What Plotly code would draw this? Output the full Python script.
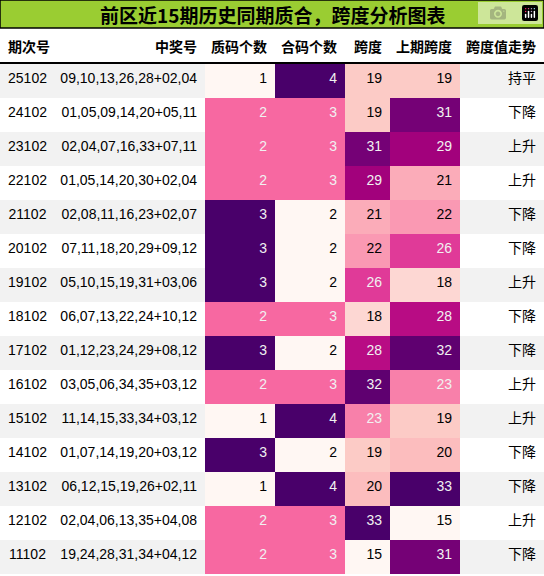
import plotly.graph_objects as go
from plotly.colors import sample_colorscale, unlabel_rgb

periods = ["25102","24102","23102","22102","21102","20102","19102","18102","17102","16102","15102","14102","13102","12102","11102"]
numbers = ["09,10,13,26,28+02,04","01,05,09,14,20+05,11","02,04,07,16,33+07,11","01,05,14,20,30+02,04",
           "02,08,11,16,23+02,07","07,11,18,20,29+09,12","05,10,15,19,31+03,06","06,07,13,22,24+10,12",
           "01,12,23,24,29+08,12","03,05,06,34,35+03,12","11,14,15,33,34+03,12","01,07,14,19,20+03,12",
           "06,12,15,19,26+02,11","02,04,06,13,35+04,08","19,24,28,31,34+04,12"]
prime = [1,2,2,2,3,3,3,2,3,2,1,3,1,2,2]
composite = [4,3,3,3,2,2,2,3,2,3,4,2,4,3,3]
span = [19,19,31,29,21,22,26,18,28,32,23,19,20,33,15]
prev_span = [19,31,29,21,22,26,18,28,32,23,19,20,33,15,31]
trend = ["持平","下降","上升","上升","下降","下降","上升","下降","下降","上升","上升","下降","下降","上升","下降"]
headers = ["期次号","中奖号","质码个数","合码个数","跨度","上期跨度","跨度值走势"]

def grad(vals):
    lo, hi = min(vals), max(vals)
    cols = sample_colorscale("RdPu", [(v-lo)/(hi-lo) for v in vals])
    txt = []
    for c in cols:
        r, g, b = [x/255 for x in unlabel_rgb(c)]
        f = lambda x: x/12.92 if x <= 0.04045 else ((x+0.055)/1.055)**2.4
        L = 0.2126*f(r)+0.7152*f(g)+0.0722*f(b)
        txt.append("#f1f1f1" if L < 0.408 else "#000000")
    return cols, txt

base = ["#f2f2f2" if i % 2 == 0 else "#ffffff" for i in range(len(periods))]
black = ["#000000"]*len(periods)
fills, fonts = [base, base], [black, black]
for v in [prime, composite, span, prev_span]:
    c, t = grad(v)
    fills.append(c); fonts.append(t)
fills.append(base); fonts.append(black)

H = 576
fig = go.Figure(go.Table(
    columnwidth=[55,150,70,70,45,70,84],
    domain=dict(x=[0,1], y=[0,1-28/H]),
    header=dict(values=[f"<b>{h}</b>" for h in headers], height=35,
                align=["left","right","right","right","right","right","right"],
                fill_color="white", line=dict(width=0, color="white"),
                font=dict(family="Noto Sans CJK SC", size=14, color="black")),
    cells=dict(values=[periods, numbers, prime, composite, span, prev_span, trend],
               height=34, align=["center","right","right","right","right","right","right"],
               fill_color=fills, line=dict(width=0, color="white"),
               font=dict(family="Liberation Sans, Noto Sans CJK SC", size=14, color=fonts))
))
fig.add_shape(type="rect", xref="paper", yref="paper", x0=0, x1=1, y0=1-28/H, y1=1,
              fillcolor="#9acd32", line=dict(color="black", width=1.5))
fig.add_shape(type="line", xref="paper", yref="paper", x0=0, x1=1, y0=1-63/H, y1=1-63/H,
              line=dict(color="black", width=2))
fig.add_annotation(xref="paper", yref="paper", x=0.5, y=1-14/H, yanchor="middle", showarrow=False,
                   text="<b>前区近15期历史同期质合，跨度分析图表</b>",
                   font=dict(family="Noto Sans CJK SC", size=19, color="black"))
fig.update_layout(width=544, height=H, margin=dict(l=0, r=0, t=0, b=0),
                  paper_bgcolor="white")
fig.write_html("out.html", post_script="document.body.style.margin='0';document.body.style.overflow='hidden';")
